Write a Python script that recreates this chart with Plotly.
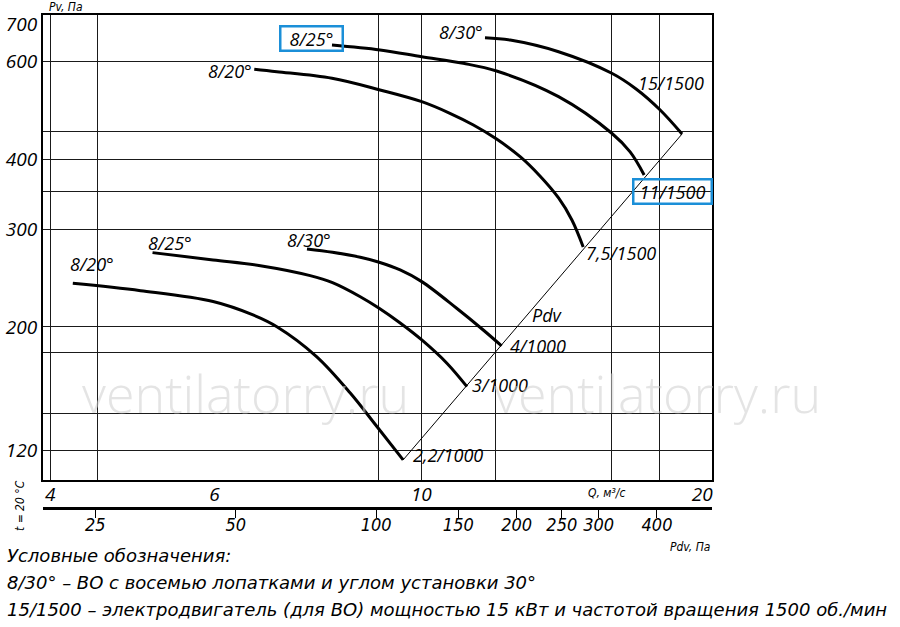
import math
import plotly.graph_objects as go

# ---------------- data ----------------
# axes
Q_RANGE = [3.93, 20.49]          # m3/s, log axis
P_RANGE = [106.1, 728.1]         # Pa, log axis
Q_LABEL_TICKS = [4, 6, 10, 20]
P_LABEL_TICKS = [120, 200, 300, 400, 600, 700]
Q_GRID_DARK = [4, 4.5, 9, 10, 12, 16, 18]
Q_GRID_GRAY = [5, 6, 7, 8, 14, 20]
P_GRID_DARK = [120, 140, 180, 200, 300, 350, 400, 450, 600]
P_GRID_GRAY = [160, 250, 500]
PDV_TICKS = [25, 50, 100, 150, 200, 250, 300, 400]
PDV_K = 1.25                     # Pdv = k * Q^2

# curves: 1000 rpm
Q_820_LOW = [4.23, 5.0, 5.98, 6.6, 7.0, 7.72, 8.39, 8.96, 9.56]
P_820_LOW = [239.6, 232.4, 222.2, 210.2, 200.2, 176.9, 152.1, 132.4, 115.3]
Q_825_LOW = [5.15, 5.98, 6.72, 7.60, 8.03, 8.60, 9.01, 9.49, 10.01, 10.65, 11.19]
P_825_LOW = [272.1, 264.0, 257.8, 247.4, 240.3, 226.7, 216.1, 203.3, 189.5, 172.1, 156.2]
Q_830_LOW = [7.54, 8.03, 8.60, 9.01, 9.49, 10.01, 10.91, 11.65, 12.19]
P_830_LOW = [276.3, 272.5, 266.9, 261.5, 253.3, 241.3, 216.1, 197.5, 184.9]
# curves: 1500 rpm
Q_820_HIGH = [6.62, 7.0, 8.02, 9.03, 10.01, 10.73, 11.37, 12.04, 12.76, 13.40, 14.03, 14.5, 14.91]
P_820_HIGH = [581.5, 575.7, 560.2, 533.8, 508.5, 484.6, 461.7, 435.6, 404.9, 373.8, 341.2, 311.5, 278.6]
Q_825_HIGH = [8.02, 9.03, 10.01, 11.09, 12.04, 14.03, 16.0, 16.74, 17.33]
P_825_HIGH = [642.9, 629.9, 612.6, 596.1, 577.4, 519.2, 446.1, 412.9, 375.4]
Q_830_HIGH = [11.70, 12.45, 14.03, 16.00, 16.99, 18.03, 19.03]
P_830_HIGH = [662.7, 656.4, 625.4, 572.0, 536.0, 491.3, 444.8]
# Pdv line
Q_PDV = [9.56, 19.03]
P_PDV = [115.3, 444.8]

CURVE_LABELS = ["8/20°", "8/25°", "8/30°", "8/20°", "8/25°", "8/30°"]
CURVE_LABEL_Q = [4.44, 5.38, 7.58, 6.24, 7.62, 11.03]
CURVE_LABEL_P = [259.6, 283.2, 286.8, 577.4, 661.9, 678.5]
MOTOR_LABELS = ["2,2/1000", "3/1000", "4/1000", "7,5/1500", "11/1500", "15/1500", "Pdv"]
MOTOR_LABEL_Q = [10.68, 12.14, 13.34, 16.37, 18.57, 18.53, 13.64]
MOTOR_LABEL_P = [117.7, 157.3, 184.9, 271.7, 349.8, 549.4, 210.2]
BOXED = {("8/25°", 661.9), ("11/1500", 349.8)}

LEGEND_LINES = [
    "Условные обозначения:",
    "8/30° – ВО с восемью лопатками и углом установки 30°",
    "15/1500 – электродвигатель (для ВО) мощностью 15 кВт и частотой вращения 1500 об./мин",
]

# ---------------- figure ----------------
LABEL_FONT = dict(family="Open Sans, Noto Sans, sans-serif", size=18, color="black", style="italic")
COND_FONT = "Liberation Sans Narrow, DejaVu Sans Condensed, Roboto, sans-serif"
BLUE = "#1b8fd8"
DARK = "#1a1a1a"
GRAY = "#8c8c8c"

fig = go.Figure()

curves = [(Q_820_LOW, P_820_LOW), (Q_825_LOW, P_825_LOW), (Q_830_LOW, P_830_LOW),
          (Q_820_HIGH, P_820_HIGH), (Q_825_HIGH, P_825_HIGH), (Q_830_HIGH, P_830_HIGH)]
for q, p in curves:
    fig.add_trace(go.Scatter(x=q, y=p, mode="lines", hoverinfo="skip",
                             line=dict(color="black", width=3, shape="spline", smoothing=1.0)))
fig.add_trace(go.Scatter(x=Q_PDV, y=P_PDV, mode="lines", hoverinfo="skip",
                         line=dict(color="black", width=1)))
# carrier for the Pdv scale (invisible points at its tick values)
fig.add_trace(go.Scatter(x=PDV_TICKS, y=[0] * len(PDV_TICKS), xaxis="x3", yaxis="y3",
                         mode="markers", marker=dict(opacity=0, size=1), hoverinfo="skip"))

ann = []
for t, q, p in zip(CURVE_LABELS + MOTOR_LABELS, CURVE_LABEL_Q + MOTOR_LABEL_Q, CURVE_LABEL_P + MOTOR_LABEL_P):
    a = dict(x=math.log10(q), y=math.log10(p), xref="x", yref="y", text=t, showarrow=False,
             font=LABEL_FONT, xanchor="center", yanchor="middle")
    if (t, p) in BOXED:
        a.update(bordercolor=BLUE, borderwidth=2.5, borderpad=1,
                 width=58 if t.startswith("8") else 74, height=20)
    ann.append(a)

# watermark
for xp in [0.302, 0.919]:
    ann.append(dict(x=xp, y=0.232, xref="paper", yref="paper", text="ventilatorry.ru",
                    showarrow=False, xanchor="center", yanchor="middle",
                    font=dict(family="Open Sans, sans-serif", size=52, weight=300,
                              color="rgba(205,205,205,0.55)")))

small = dict(family=COND_FONT, size=12, color="black", style="italic")
ann.append(dict(x=0.0344, y=1.0163, xref="paper", yref="paper", text="Pv, Па", showarrow=False,
                font=small, xanchor="center", yanchor="middle"))
ann.append(dict(x=0.843, y=0.0285, xref="paper", yref="paper", text="Q, м³/с", showarrow=False,
                font=small, xanchor="center", yanchor="middle"))
ann.append(dict(x=0.967, y=-0.0813, xref="paper", yref="paper", text="Pdv, Па", showarrow=False,
                font=small, xanchor="center", yanchor="middle"))
ann.append(dict(x=-0.0344, y=0.004, xref="paper", yref="paper", text="t = 20 °C", showarrow=False,
                font=small, textangle=-90, xanchor="center", yanchor="middle"))

for i, line in enumerate(LEGEND_LINES):
    ann.append(dict(x=-0.0568, y=-0.0976 - 0.0557 * i, xref="paper", yref="paper", text=line,
                    showarrow=False, xanchor="left", yanchor="middle",
                    font=dict(family="DejaVu Sans, sans-serif", size=18, color="black", style="italic")))

qlog = [math.log10(v) for v in Q_RANGE]
plog = [math.log10(v) for v in P_RANGE]
pdvlog = [math.log10(PDV_K) + 2 * v for v in qlog]
tickfont = dict(family="Open Sans, sans-serif", size=19, color="black", style="italic")

fig.update_layout(
    width=900, height=627, showlegend=False,
    margin=dict(l=43, r=188, t=15, b=120, autoexpand=False),
    paper_bgcolor="white", plot_bgcolor="white",
    annotations=ann,
    xaxis=dict(type="log", range=qlog, tickmode="array", tickvals=Q_LABEL_TICKS,
               ticktext=[str(v) for v in Q_LABEL_TICKS], showgrid=False, zeroline=False,
               showline=True, mirror=True, linecolor="black", linewidth=2, ticks="",
               tickfont=tickfont, automargin=False, ticklabelstandoff=-4,
               minor=dict(tickmode="array", tickvals=Q_GRID_DARK, showgrid=True,
                          gridcolor=DARK, gridwidth=1, ticks="")),
    xaxis2=dict(type="log", range=qlog, overlaying="x", anchor="y", tickmode="array",
                tickvals=Q_GRID_GRAY, showticklabels=False, showgrid=True, gridcolor=GRAY,
                gridwidth=1.5, zeroline=False, showline=False, ticks=""),
    xaxis3=dict(type="log", range=pdvlog, anchor="y3", side="bottom", tickmode="array",
                tickvals=PDV_TICKS, ticktext=[str(v) for v in PDV_TICKS], showgrid=False,
                zeroline=False, showline=True, linecolor="black", linewidth=2.5,
                ticks="outside", ticklen=8, tickwidth=1, tickcolor="black", automargin=False,
                ticklabelstandoff=-8,
                tickfont=dict(family=COND_FONT, size=18, color="black", style="italic")),
    yaxis3=dict(domain=[0, 0.002], anchor="x3", visible=False, fixedrange=True),
    yaxis=dict(type="log", range=plog, domain=[27 / 492, 1], tickmode="array",
               tickvals=P_LABEL_TICKS, ticktext=[str(v) for v in P_LABEL_TICKS],
               showgrid=False, zeroline=False, showline=True, mirror=True, automargin=False,
               linecolor="black", linewidth=2, ticks="", tickfont=tickfont,
               minor=dict(tickmode="array", tickvals=P_GRID_DARK, showgrid=True,
                          gridcolor=DARK, gridwidth=1, ticks="")),
    yaxis2=dict(type="log", range=plog, overlaying="y", anchor="x", tickmode="array",
                tickvals=P_GRID_GRAY, showticklabels=False, showgrid=True, gridcolor=GRAY,
                gridwidth=1.5, zeroline=False, showline=False, ticks=""),
)

fig.write_html("out.html", post_script="document.body.style.margin='0';",
               config={"displayModeBar": False})
